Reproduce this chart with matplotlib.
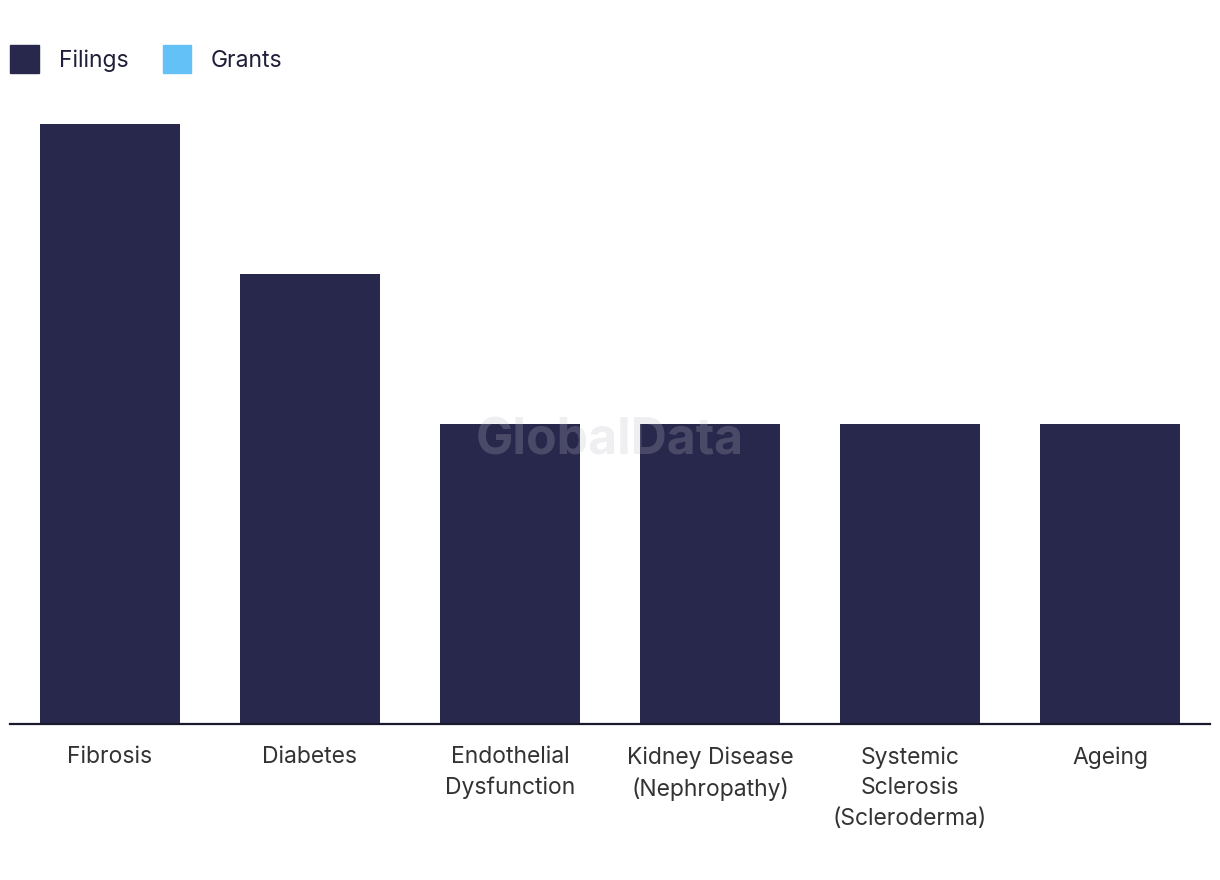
import matplotlib
matplotlib.use('Agg')
import matplotlib.pyplot as plt
import numpy as np
from matplotlib.patches import Patch

# Chart data
categories = ['Fibrosis', 'Diabetes', 'Endothelial\nDysfunction', 'Kidney Disease\n(Nephropathy)',
              'Systemic\nSclerosis\n(Scleroderma)', 'Ageing']
filings = [4, 3, 2, 2, 2, 2]
grants = [0, 0, 0, 0, 0, 0]

filings_color = '#28284c'
grants_color = '#64c1f7'

plt.rcParams['font.family'] = ['Inter', 'DejaVu Sans']

fig = plt.figure(figsize=(12.2, 8.8), dpi=100)
ax = fig.add_axes([10 / 1220, 156 / 880, 1200 / 1220, 600 / 880])

x = np.arange(len(categories))
ax.bar(x, filings, width=0.7, color=filings_color)
ax.bar(x, grants, width=0.7, bottom=filings, color=grants_color)

ax.set_xlim(-0.5, len(categories) - 0.5)
ax.set_ylim(0, 4)
ax.set_xticks(x)
ax.set_xticklabels(categories, fontsize=16.5, color='#333333', linespacing=1.5)
ax.tick_params(axis='x', length=0, pad=16)
ax.set_yticks([])
for side in ['top', 'right', 'left']:
    ax.spines[side].set_visible(False)
ax.spines['bottom'].set_color('#1a1a2e')
ax.spines['bottom'].set_linewidth(1.6)

# Legend
handles = [Patch(color=filings_color, label='Filings'), Patch(color=grants_color, label='Grants')]
fig.legend(handles=handles, loc='upper left', bbox_to_anchor=(-1 / 1220, 1 - 34 / 880), ncol=2,
           frameon=False, fontsize=16.5, handlelength=1.25, handleheight=1.5, handletextpad=0.85,
           columnspacing=1.5, borderpad=0, labelcolor='#1f1f3a')

# Watermark
fig.text(610 / 1220, 1 - 441 / 880, 'GlobalData', ha='center', va='center', fontsize=36,
         fontweight='bold', color='#bdbdc8', alpha=0.23)

fig.savefig('out.png', dpi=100)
